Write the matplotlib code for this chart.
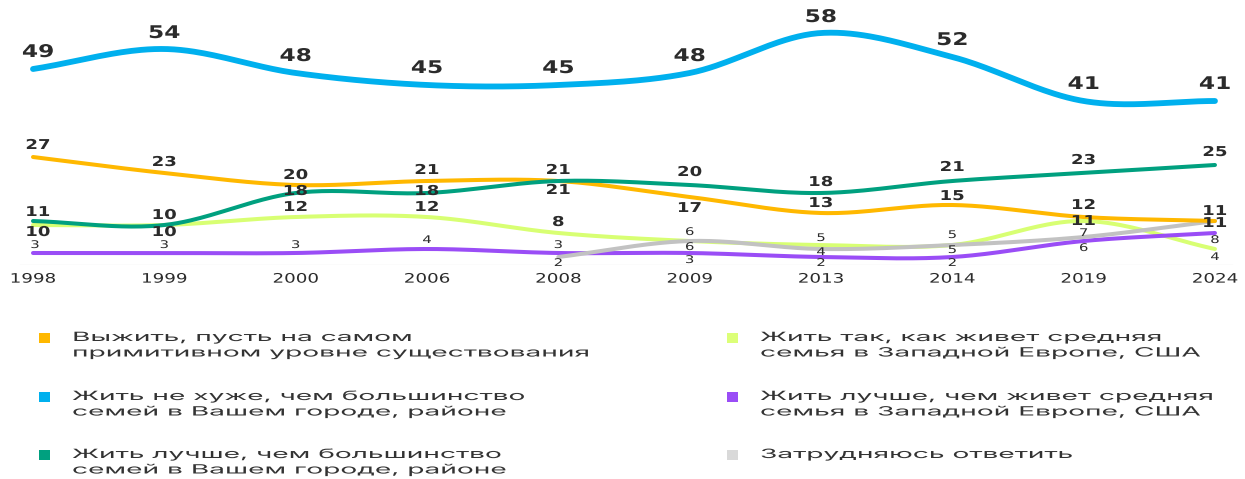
import numpy as np
import matplotlib
matplotlib.use("Agg")
import matplotlib.pyplot as plt
from matplotlib.patheffects import AbstractPathEffect
from matplotlib.transforms import Affine2D
from matplotlib.patches import Rectangle

# ---------------- data ----------------
years = ['1998', '1999', '2000', '2006', '2008', '2009', '2013', '2014', '2019', '2024']
survive = [27, 23, 20, 21, 21, 17, 13, 15, 12, 11]
not_worse = [49, 54, 48, 45, 45, 48, 58, 52, 41, 41]
better_city = [11, 10, 18, 18, 21, 20, 18, 21, 23, 25]
like_west = [10, 10, 12, 12, 8, 6, 5, 5, 11, 4]
better_west = [3, 3, 3, 4, 3, 3, 2, 2, 6, 8]
hard_years = ['2008', '2009', '2013', '2014', '2019', '2024']
hard = [2, 6, 4, 5, 7, 11]

legend_texts = [
    "Выжить, пусть на самом\nпримитивном уровне существования",
    "Жить не хуже, чем большинство\nсемей в Вашем городе, районе",
    "Жить лучше, чем большинство\nсемей в Вашем городе, районе",
    "Жить так, как живет средняя\nсемья в Западной Европе, США",
    "Жить лучше, чем живет средняя\nсемья в Западной Европе, США",
    "Затрудняюсь ответить",
]

# ---------------- styles ----------------
C_ORANGE = '#FFB800'
C_BLUE = '#00B0EE'
C_TEAL = '#00A07F'
C_LGREEN = '#D8FF73'
C_PURPLE = '#9A4DF6'
C_GRAY = '#C2C2C2'
TXT = '#2b2b2b'

# label vertical offsets in pixels (positive = up)
dy_survive = [12, 11, 10, 11, 11, -11, 10, 9, 12, 10]
dy_not_worse = [17, 16, 17, 17, 17, 17, 16, 17, 17, 17]
dy_better_city = [9, 10, 2, 2, -9, 13, 11, 14, 13, 13]
dy_like_west = [-7, -7, 10, 10, 11, 9, 7, 10, 0, -8]
dy_better_west = [8, 8, 8, 9, 8, -7, -6, -6, -7, -7]
dy_hard = [-6, -6, -3, -5, 4, -2]

W, H = 1245, 479
X0_PX, STEP_PX = 33.0, 131.33
BASE_PX, UNIT_PX = 265.0, 4.0


class Stretch(AbstractPathEffect):
    """Horizontally widen glyphs (the reference artwork is stretched)."""

    def __init__(self, sx, anchor='center'):
        super().__init__()
        self.sx = sx
        self.anchor = anchor

    def draw_path(self, renderer, gc, tpath, affine, rgbFace=None):
        if self.anchor == 'center':
            ext = tpath.get_extents()
            c = (ext.x0 + ext.x1) / 2.0
        else:
            c = 0.0
        pre = Affine2D().translate(-c, 0).scale(self.sx, 1.0).translate(c, 0)
        renderer.draw_path(gc, tpath, pre + affine, rgbFace)


def smooth(xs, ys, n=40):
    xs = np.asarray(xs, float)
    ys = np.asarray(ys, float)
    m = np.zeros_like(ys)
    m[1:-1] = (ys[2:] - ys[:-2]) / (xs[2:] - xs[:-2])
    m[0] = (ys[1] - ys[0]) / (xs[1] - xs[0])
    m[-1] = (ys[-1] - ys[-2]) / (xs[-1] - xs[-2])
    X, Y = [], []
    for i in range(len(xs) - 1):
        h = xs[i + 1] - xs[i]
        t = np.linspace(0, 1, n, endpoint=(i == len(xs) - 2))
        h00 = 2 * t**3 - 3 * t**2 + 1
        h10 = t**3 - 2 * t**2 + t
        h01 = -2 * t**3 + 3 * t**2
        h11 = t**3 - t**2
        X.append(xs[i] + t * h)
        Y.append(h00 * ys[i] + h10 * h * m[i] + h01 * ys[i + 1] + h11 * h * m[i + 1])
    return np.concatenate(X), np.concatenate(Y)


fig = plt.figure(figsize=(W / 100, H / 100), dpi=100)
ax = fig.add_axes([0, (H - BASE_PX) / H, 1, BASE_PX / H])
ax.set_xlim(-X0_PX / STEP_PX, (W - X0_PX) / STEP_PX)
ax.set_ylim(0, BASE_PX / UNIT_PX)
for s in ax.spines.values():
    s.set_visible(False)
ax.set_yticks([])
ax.axhline(0, xmin=20 / W, xmax=1232 / W, color='#ededed', lw=1, zorder=0)

xi = np.arange(len(years))
xh = np.array([years.index(y) for y in hard_years])

NUM_FONT = 'DejaVu Sans'
NUM_SX = 1.33

series = [
    (xi, survive, C_ORANGE, 2.9, dy_survive, 'mid', 4),
    (xi, not_worse, C_BLUE, 4.2, dy_not_worse, 'big', 5),
    (xi, better_city, C_TEAL, 2.9, dy_better_city, 'mid', 4),
    (xi, like_west, C_LGREEN, 2.9, dy_like_west, 'mid', 3),
    (xi, better_west, C_PURPLE, 2.9, dy_better_west, 'small', 3),
    (xh, hard, C_GRAY, 2.9, dy_hard, 'mid', 3),
]

for xs, vals, col, lw, dys, kind, z in series:
    sx_, sy_ = smooth(xs, vals)
    ax.plot(sx_, sy_, color=col, lw=lw, solid_capstyle='round', zorder=z, clip_on=False)
    for j, (x, v) in enumerate(zip(xs, vals)):
        if kind == 'big':
            fs, fw, sxf = 12.6, 'bold', NUM_SX
        elif kind == 'small' or v <= 7:
            fs, fw, sxf = 7.6, 'normal', 1.4
        else:
            fs, fw, sxf = 9.8, 'bold', NUM_SX
        dx = 5 if x == 0 else 0
        if x == 0 and kind == 'small':
            dx = 2
        ax.annotate(str(v), (x, v), xytext=(dx, dys[j]), textcoords='offset pixels',
                    ha='center', va='center', fontsize=fs, fontweight=fw,
                    family=NUM_FONT, color=TXT, zorder=10,
                    path_effects=[Stretch(sxf)], annotation_clip=False)

ax.set_xticks(xi)
ax.set_xticklabels(years, fontsize=9.4, family=NUM_FONT, color=TXT)
ax.tick_params(axis='x', length=0, pad=5.5)
for t in ax.get_xticklabels():
    t.set_path_effects([Stretch(1.4)])

# ---------------- legend ----------------
LEG_FONT = ['Inter', 'DejaVu Sans']
LEG_SX = 2.2
leg_colors = [C_ORANGE, C_BLUE, C_TEAL, '#DCFF78', C_PURPLE, '#D9D9D9']
rows_y = [338, 397, 455]
cols = [(45, 72), (733, 760)]
for k, (txt, col) in enumerate(zip(legend_texts, leg_colors)):
    c = k // 3
    r = k % 3
    sqx, tx = cols[c]
    y0 = rows_y[r]
    fig.add_artist(Rectangle(((sqx - 6) / W, 1 - (y0 + 5) / H), 11 / W, 10 / H,
                             transform=fig.transFigure, color=col, lw=0))
    for li, line in enumerate(txt.split('\n')):
        fig.text(tx / W, 1 - (y0 + 15.5 * li) / H, line, ha='left', va='center',
                 fontsize=9.2, family=LEG_FONT, color='#333333',
                 path_effects=[Stretch(LEG_SX, anchor='left')])

fig.savefig('out.png', dpi=100)
